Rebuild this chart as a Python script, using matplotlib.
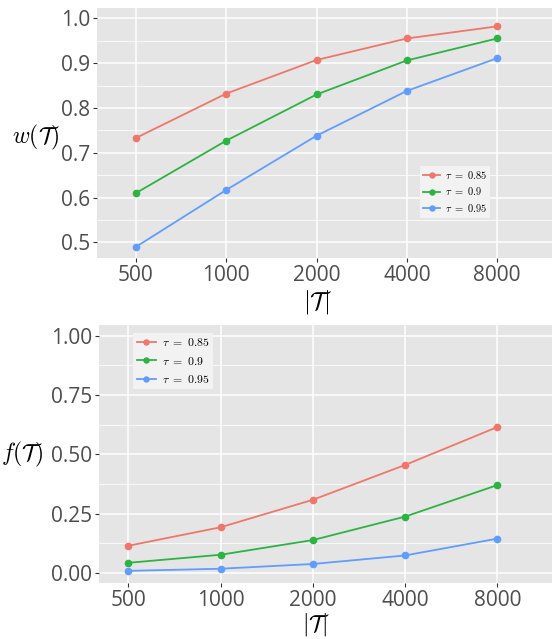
import matplotlib
matplotlib.use('Agg')
import matplotlib.pyplot as plt
import numpy as np

plt.rcParams['font.family'] = ['Open Sans', 'DejaVu Sans']
plt.rcParams['mathtext.fontset'] = 'cm'

sizes = ['500', '1000', '2000', '4000', '8000']
taus = ['0.85', '0.9', '0.95']
colors = ['#F0766B', '#2DB343', '#619CFF']

# w(T) per tau
w_085 = [0.733, 0.832, 0.907, 0.955, 0.982]
w_090 = [0.610, 0.727, 0.830, 0.906, 0.955]
w_095 = [0.490, 0.617, 0.738, 0.838, 0.911]

# f(T) per tau
f_085 = [0.114, 0.192, 0.308, 0.455, 0.615]
f_090 = [0.042, 0.076, 0.138, 0.237, 0.370]
f_095 = [0.008, 0.017, 0.037, 0.073, 0.144]

fig = plt.figure(figsize=(5.52, 6.39), dpi=100)
ax1 = fig.add_axes([0.1757, 0.5962, 1.0 - 0.1757, 0.9875 - 0.5962])
ax2 = fig.add_axes([0.180, 0.0881, 1.0 - 0.180, 0.4914 - 0.0881])


def style(ax, major, minor, ylim, xlim):
    ax.set_facecolor('#e5e5e5')
    for s in ax.spines.values():
        s.set_visible(False)
    ax.set_xticks(range(len(sizes)))
    ax.set_xticklabels(sizes)
    ax.set_yticks(major)
    ax.set_yticks(minor, minor=True)
    ax.set_ylim(*ylim)
    ax.set_xlim(*xlim)
    ax.grid(True, which='major', color='white', linewidth=1.1)
    ax.grid(True, which='minor', axis='y', color='white', linewidth=0.55)
    ax.set_axisbelow(True)
    ax.tick_params(which='major', length=3, width=0.8, color='#333333',
                   labelsize=15, labelcolor='#4d4d4d', pad=2)
    ax.tick_params(which='minor', length=0)


x = np.arange(len(sizes))
for vals, c, t in zip([w_085, w_090, w_095], colors, taus):
    ax1.plot(x, vals, color=c, marker='o', markersize=4.5, linewidth=1.3,
             label=r'$\tau\ =\ %s$' % t)
for vals, c, t in zip([f_085, f_090, f_095], colors, taus):
    ax2.plot(x, vals, color=c, marker='o', markersize=4.5, linewidth=1.3,
             label=r'$\tau\ =\ %s$' % t)

style(ax1, [0.5, 0.6, 0.7, 0.8, 0.9, 1.0],
      [0.55, 0.65, 0.75, 0.85, 0.95], (0.465, 1.023), (-0.432, 4.607))
ax1.set_yticklabels(['0.5', '0.6', '0.7', '0.8', '0.9', '1.0'])
style(ax2, [0.0, 0.25, 0.5, 0.75, 1.0],
      [0.125, 0.375, 0.625, 0.875], (-0.042, 1.046), (-0.314, 4.593))
ax2.set_yticklabels(['0.00', '0.25', '0.50', '0.75', '1.00'])

ax1.set_ylabel(r'$w(\mathcal{T})$', rotation=0, fontsize=17, va='center')
ax1.yaxis.set_label_coords(-0.135, 0.484)
ax1.set_xlabel(r'$|\mathcal{T}|$', fontsize=18)
ax1.xaxis.set_label_coords(0.486, -0.12)

ax2.set_ylabel(r'$f(\mathcal{T})$', rotation=0, fontsize=17, va='center')
ax2.yaxis.set_label_coords(-0.171, 0.496)
ax2.set_xlabel(r'$|\mathcal{T}|$', fontsize=17)
ax2.xaxis.set_label_coords(0.479, -0.11)

for ax, loc, fs in [(ax1, (0.71, 0.16), 7.5), (ax2, (0.075, 0.75), 8.5)]:
    leg = ax.legend(loc='lower left', bbox_to_anchor=loc, fontsize=fs,
                    frameon=True, fancybox=False, handlelength=1.6,
                    handletextpad=0.5, borderpad=0.3, labelspacing=0.45,
                    markerscale=0.8, borderaxespad=0)
    leg.get_frame().set_facecolor('#f2f2f2')
    leg.get_frame().set_edgecolor('none')
    leg.get_frame().set_alpha(1)

fig.savefig('out.png', dpi=100)
